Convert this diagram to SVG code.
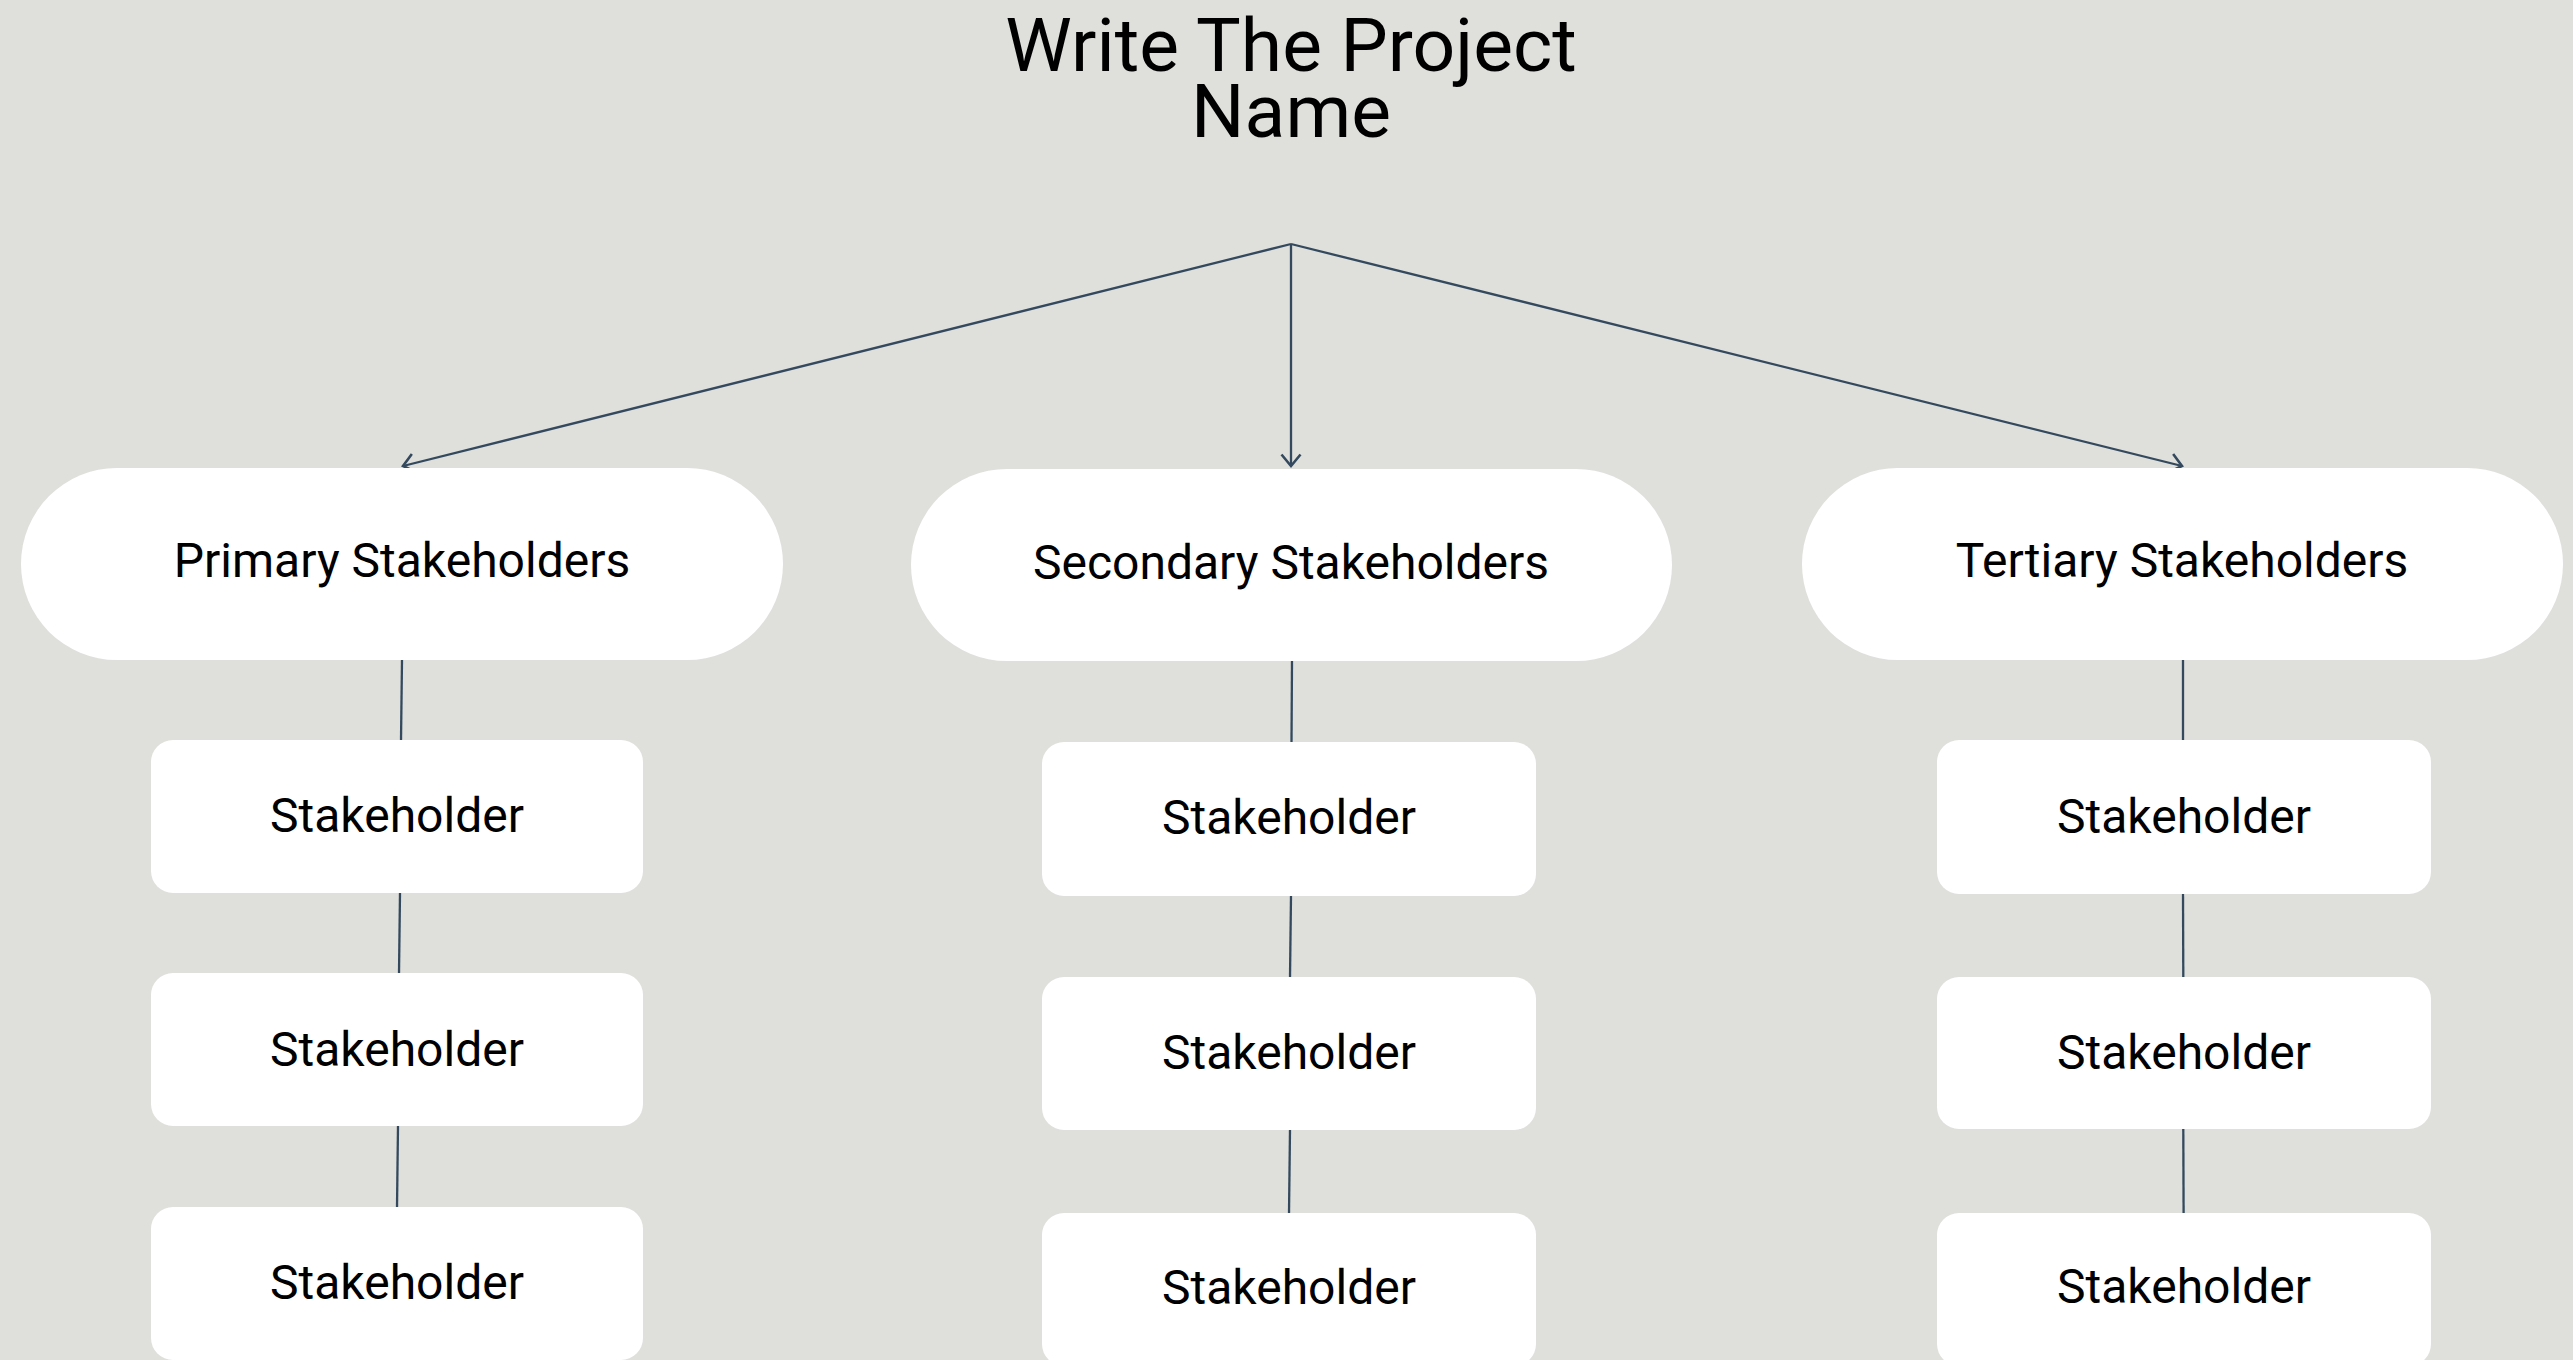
<svg xmlns="http://www.w3.org/2000/svg" width="2573" height="1360" viewBox="0 0 2573 1360">
<style>
.bg{fill:#dfe0db}
.pill,.box{fill:#ffffff}
.title{font-family:Roboto,"Liberation Sans",sans-serif;font-size:75px;fill:#000;text-anchor:middle}
.lbl{font-family:Roboto,"Liberation Sans",sans-serif;font-size:48px;fill:#000;text-anchor:middle}
.conn{stroke:#34495e;stroke-width:2.3;fill:none}
</style>
<defs>
<marker id="chev" markerUnits="userSpaceOnUse" markerWidth="26" markerHeight="26" refX="13" refY="12" orient="auto">
<path d="M1.5,2.5 L13,12 L1.5,21.5" fill="none" stroke="#34495e" stroke-width="2.6"/>
</marker>
</defs>
<rect class="bg" x="0" y="0" width="2573" height="1360"/>
<g id="title">
<text class="title" x="1291" y="71">Write The Project</text>
<text class="title" x="1291" y="137">Name</text>
</g>
<g id="connectors">
<line class="conn" x1="1291" y1="244" x2="403" y2="466" marker-end="url(#chev)"/>
<line class="conn" x1="1291" y1="244" x2="1291" y2="466" marker-end="url(#chev)"/>
<line class="conn" x1="1291" y1="244" x2="2182" y2="466" marker-end="url(#chev)"/>
<line class="conn" x1="402" y1="660" x2="401" y2="740"/>
<line class="conn" x1="400" y1="893" x2="399" y2="973"/>
<line class="conn" x1="398" y1="1126" x2="397" y2="1207"/>
<line class="conn" x1="1292" y1="661" x2="1291.5" y2="742"/>
<line class="conn" x1="1291" y1="896" x2="1290" y2="977"/>
<line class="conn" x1="1290" y1="1130" x2="1289" y2="1213"/>
<line class="conn" x1="2183" y1="660" x2="2183" y2="740"/>
<line class="conn" x1="2183" y1="894" x2="2183.3" y2="977"/>
<line class="conn" x1="2183.3" y1="1129" x2="2183.6" y2="1213"/>
</g>
<g id="primary">
<rect class="pill" x="21" y="468" width="762" height="192" rx="96" ry="96"/>
<text class="lbl" x="402" y="577">Primary Stakeholders</text>
</g>
<g id="secondary">
<rect class="pill" x="911" y="469" width="761" height="192" rx="96" ry="96"/>
<text class="lbl" x="1291" y="579">Secondary Stakeholders</text>
</g>
<g id="tertiary">
<rect class="pill" x="1802" y="468" width="761" height="192" rx="96" ry="96"/>
<text class="lbl" x="2182" y="577">Tertiary Stakeholders</text>
</g>
<g id="p1"><rect class="box" x="151" y="740" width="492" height="153" rx="22"/><text class="lbl" x="397" y="832">Stakeholder</text></g>
<g id="p2"><rect class="box" x="151" y="973" width="492" height="153" rx="22"/><text class="lbl" x="397" y="1066">Stakeholder</text></g>
<g id="p3"><rect class="box" x="151" y="1207" width="492" height="153" rx="22"/><text class="lbl" x="397" y="1299">Stakeholder</text></g>
<g id="s1"><rect class="box" x="1042" y="742" width="494" height="154" rx="22"/><text class="lbl" x="1289" y="834">Stakeholder</text></g>
<g id="s2"><rect class="box" x="1042" y="977" width="494" height="153" rx="22"/><text class="lbl" x="1289" y="1069">Stakeholder</text></g>
<g id="s3"><rect class="box" x="1042" y="1213" width="494" height="153" rx="22"/><text class="lbl" x="1289" y="1304">Stakeholder</text></g>
<g id="t1"><rect class="box" x="1937" y="740" width="494" height="154" rx="22"/><text class="lbl" x="2184" y="833">Stakeholder</text></g>
<g id="t2"><rect class="box" x="1937" y="977" width="494" height="152" rx="22"/><text class="lbl" x="2184" y="1069">Stakeholder</text></g>
<g id="t3"><rect class="box" x="1937" y="1213" width="494" height="153" rx="22"/><text class="lbl" x="2184" y="1303">Stakeholder</text></g>
</svg>
